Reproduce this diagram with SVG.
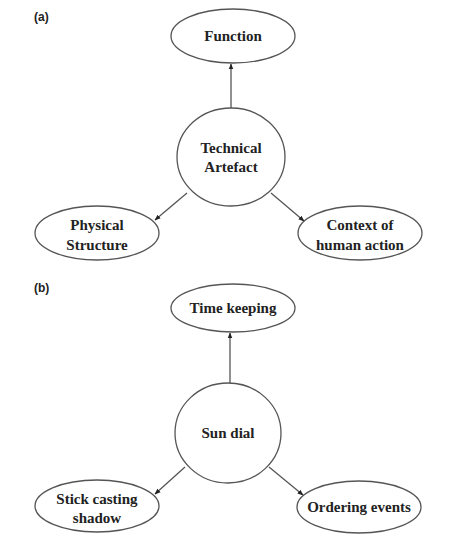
<svg xmlns="http://www.w3.org/2000/svg" width="450" height="540" viewBox="0 0 450 540">
<style>
.n{fill:#fff;stroke:#555;stroke-width:1.3}
.t{font-family:"Liberation Serif",serif;font-weight:bold;font-size:15px;fill:#222;text-anchor:middle}
.l{font-family:"Liberation Sans",sans-serif;font-weight:bold;font-size:12px;fill:#222}
.c{stroke:#555;stroke-width:1.3;fill:none;marker-end:url(#a)}
</style>
<defs>
<marker id="a" viewBox="0 0 10 10" refX="9" refY="5" markerWidth="6" markerHeight="6" orient="auto" markerUnits="userSpaceOnUse">
<path d="M0,1 L10,5 L0,9 z" fill="#222"/>
</marker>
</defs>
<rect width="450" height="540" fill="#fff"/>
<text class="l" x="34" y="21">(a)</text>
<text class="l" x="34" y="292">(b)</text>
<g id="connectors">
<line class="c" x1="231" y1="108" x2="231" y2="64"/>
<line class="c" x1="187" y1="193" x2="155" y2="220"/>
<line class="c" x1="271" y1="193" x2="304" y2="221"/>
<line class="c" x1="230" y1="383" x2="230" y2="333"/>
<line class="c" x1="185" y1="467" x2="155" y2="494"/>
<line class="c" x1="269" y1="467" x2="303" y2="495"/>
</g>
<g id="function"><ellipse class="n" cx="233" cy="36" rx="62" ry="27"/><text class="t" x="233" y="41">Function</text></g>
<g id="technical-artefact"><ellipse class="n" cx="231" cy="157" rx="54" ry="49"/><text class="t" x="231" y="153">Technical</text><text class="t" x="231" y="172">Artefact</text></g>
<g id="physical-structure"><ellipse class="n" cx="97" cy="233" rx="62" ry="27"/><text class="t" x="97" y="230">Physical</text><text class="t" x="97" y="250">Structure</text></g>
<g id="context"><ellipse class="n" cx="360" cy="233" rx="62" ry="27"/><text class="t" x="360" y="230">Context of</text><text class="t" x="360" y="250">human action</text></g>
<g id="time-keeping"><ellipse class="n" cx="233" cy="308" rx="62" ry="24"/><text class="t" x="233" y="313">Time keeping</text></g>
<g id="sun-dial"><ellipse class="n" cx="228" cy="433" rx="53" ry="50"/><text class="t" x="228" y="438">Sun dial</text></g>
<g id="stick"><ellipse class="n" cx="97" cy="506" rx="62" ry="26"/><text class="t" x="97" y="504">Stick casting</text><text class="t" x="97" y="523">shadow</text></g>
<g id="ordering"><ellipse class="n" cx="359" cy="507" rx="62" ry="26"/><text class="t" x="359" y="512">Ordering events</text></g>
</svg>
